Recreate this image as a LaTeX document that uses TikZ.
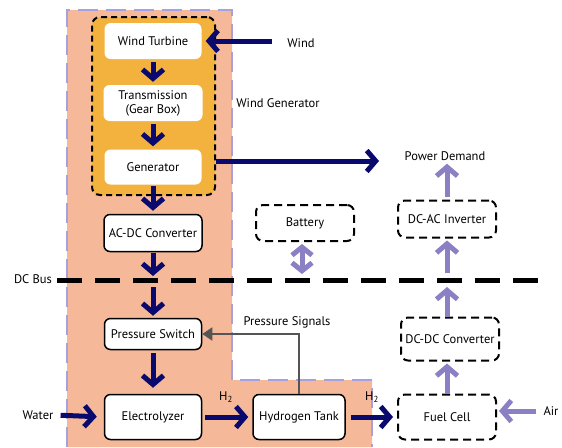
\documentclass[tikz,border=0pt]{standalone}
\usepackage{fontspec}
\setmainfont{PT Sans}
\usetikzlibrary{arrows.meta,calc}
\definecolor{salmon}{HTML}{F5B899}
\definecolor{orangec}{HTML}{F3B23E}
\definecolor{navyc}{HTML}{0A0A6E}
\definecolor{lav}{HTML}{8C80C4}
\definecolor{lavb}{HTML}{A8A0DC}
\definecolor{grayc}{HTML}{555555}
\begin{document}
\begin{tikzpicture}[x=1pt,y=-1pt,font=\fontsize{12.5}{14}\selectfont,
 wbox/.style={fill=white,rounded corners=6pt,inner sep=0pt,align=center},
 sbox/.style={wbox,draw=black,line width=1.5pt},
 dbox/.style={fill=white,draw=black,line width=2pt,dash pattern=on 8pt off 5pt,rounded corners=7pt,inner sep=0pt,align=center},
 wgbox/.style={fill=orangec,draw=black,line width=2pt,dash pattern=on 6pt off 4pt,rounded corners=8pt,inner sep=0pt},
 navyarrow/.style={draw=navyc,line width=5pt,-{Straight Barb[length=9pt,width=21pt]}},
 lavarrow/.style={draw=lav,line width=5pt,-{Straight Barb[length=9pt,width=21pt]}},
 lavdouble/.style={draw=lav,line width=5pt,{Straight Barb[length=8pt,width=20pt]}-{Straight Barb[length=8pt,width=20pt]}},
 grayarrow/.style={draw=grayc,line width=1.5pt,-{Triangle[length=10pt,width=13pt]}},
 lbl/.style={inner sep=1pt}]
\useasboundingbox (0,0) rectangle (562,447);
% background region
\fill[salmon] (67,10) -| (232,380) -| (372,447) -- (67,447) -- cycle;
\draw[lavb,line width=2pt,dash pattern=on 20pt off 8pt] (67,447) -- (67,10) -| (232,380) -| (372,447);
% wind generator group
\node[wgbox,minimum width=123pt,minimum height=178pt] (wg) at (153.5,106) {};
\node[wbox,minimum width=97pt,minimum height=36pt] (wt) at (153,41) {Wind Turbine};
\node[wbox,minimum width=99pt,minimum height=36pt] (tm) at (153,103) {Transmission\\(Gear Box)};
\node[wbox,minimum width=97pt,minimum height=35pt] (gen) at (153,167) {Generator};
% solid boxes
\node[sbox,minimum width=98pt,minimum height=37pt] (acdc) at (153,233) {AC-DC Converter};
\node[sbox,minimum width=97pt,minimum height=31pt] (ps) at (153,334) {Pressure Switch};
\node[sbox,minimum width=97pt,minimum height=45pt] (el) at (153,417) {Electrolyzer};
\node[sbox,minimum width=92pt,minimum height=45pt] (ht) at (299,417) {Hydrogen Tank};
% dashed boxes
\node[dbox,minimum width=98pt,minimum height=36pt] (bat) at (305,223) {Battery};
\node[dbox,minimum width=98pt,minimum height=37pt] (dcac) at (447,219) {DC-AC Inverter};
\node[dbox,minimum width=98pt,minimum height=43pt] (dcdc) at (450,339) {DC-DC Converter};
\node[dbox,minimum width=98pt,minimum height=45pt] (fc) at (447,417) {Fuel Cell};
% labels
\node[lbl] (wind) at (301,43) {Wind};
\node[lbl] (wgl) at (278,103) {Wind Generator};
\node[lbl] (pd) at (445,156) {Power Demand};
\node[lbl] (dcbus) at (33,279) {DC Bus};
\node[lbl] (water) at (38,415) {Water};
\node[lbl] (air) at (551,411) {Air};
\node[lbl] (psig) at (287,322) {Pressure Signals};
\node[lbl] (h2a) at (226,397) {H\textsubscript{2}};
\node[lbl] (h2b) at (372,397) {H\textsubscript{2}};
% DC bus
\coordinate (busL) at (57,280);
\coordinate (busR) at (545,280);
\draw[line width=5pt,dash pattern=on 25pt off 13pt] (busL) -- (busR);
\coordinate (pdtip) at (383,161);
% navy arrows
\draw[navyarrow,shorten <=14pt,shorten >=4pt] (wind.west |- wt.east) -- (wt.east);
\draw[navyarrow,shorten <=3pt,shorten >=3pt] (wt.south) -- (tm.north);
\draw[navyarrow,shorten <=3pt,shorten >=3pt] (tm.south) -- (gen.north);
\draw[navyarrow,shorten <=1pt,shorten >=3pt] (gen.south) -- (acdc.north);
\draw[navyarrow,shorten >=4pt] (wg.east |- pdtip) -- (pdtip);
\draw[navyarrow,shorten <=1pt,shorten >=4pt] (acdc.south) -- (acdc.south |- busL);
\draw[navyarrow,shorten <=7pt,shorten >=2pt] (ps.north |- busL) -- (ps.north);
\draw[navyarrow,shorten <=3pt,shorten >=6pt] (ps.south) -- (el.north);
\draw[navyarrow,shorten <=6pt,shorten >=7pt] (water.east) -- (el.west);
\draw[navyarrow,shorten <=3pt,shorten >=4pt] (el.east) -- (ht.west);
\draw[navyarrow,shorten <=5pt,shorten >=4pt] (ht.east) -- (fc.west);
% lavender arrows
\draw[lavarrow,shorten <=6pt,shorten >=2pt] (air.west) -- (air.west -| fc.east);
\draw[lavarrow,shorten >=2pt] (fc.north) -- (fc.north |- dcdc.south);
\draw[lavarrow,shorten >=7pt] (fc.north |- dcdc.north) -- (fc.north |- busL);
\draw[lavarrow,shorten <=7pt,shorten >=2pt] (dcac.south |- busL) -- (dcac.south);
\draw[lavarrow,shorten <=3pt,shorten >=2pt] (dcac.north) -- (dcac.north |- pd.south);
\draw[lavdouble,shorten <=2pt,shorten >=6pt] ([xshift=-3pt]bat.south) -- ([xshift=-3pt]bat.south |- busL);
% pressure signal
\draw[grayarrow] (ht.north) |- (ps.east);
\end{tikzpicture}
\end{document}
